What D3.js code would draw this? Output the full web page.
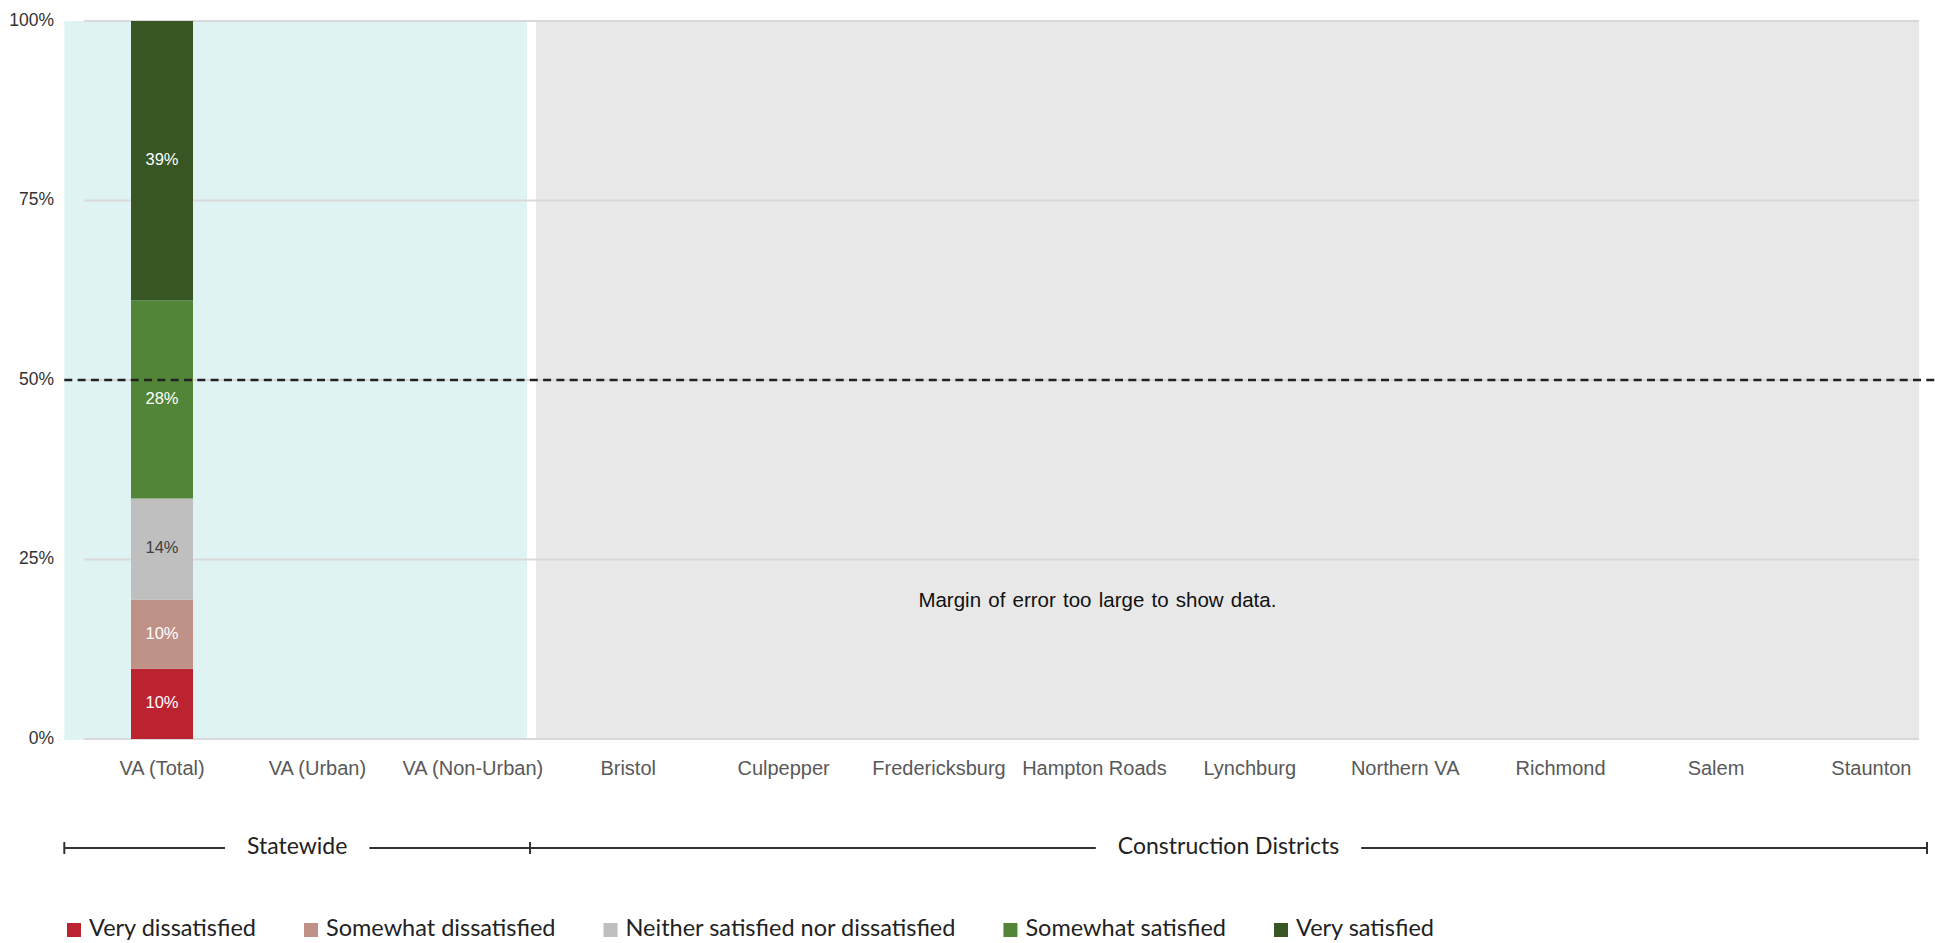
<!DOCTYPE html>
<html>
<head>
<meta charset="utf-8">
<script src="https://cdn.jsdelivr.net/npm/d3@7"></script>
<style>
  html, body { margin: 0; padding: 0; background: #ffffff; }
  svg { display: block; }
</style>
</head>
<body>
<svg id="chart" width="1939" height="943"></svg>
<script>
// ---------- DATA ----------
const categories = ["VA (Total)", "VA (Urban)", "VA (Non-Urban)", "Bristol", "Culpepper", "Fredericksburg", "Hampton Roads", "Lynchburg", "Northern VA", "Richmond", "Salem", "Staunton"];
const seriesNames = ["Very dissatisfied", "Somewhat dissatisfied", "Neither satisfied nor dissatisfied", "Somewhat satisfied", "Very satisfied"];
const seriesColors = ["#bc2331", "#c09187", "#bfbfbf", "#528537", "#375623"];
const labelColors = ["#ffffff", "#ffffff", "#404040", "#ffffff", "#ffffff"];
const veryDissatisfied     = [9.8, null, null, null, null, null, null, null, null, null, null, null];
const somewhatDissatisfied = [9.6, null, null, null, null, null, null, null, null, null, null, null];
const neither              = [14.1, null, null, null, null, null, null, null, null, null, null, null];
const somewhatSatisfied    = [27.6, null, null, null, null, null, null, null, null, null, null, null];
const verySatisfied        = [38.9, null, null, null, null, null, null, null, null, null, null, null];
const yTicks = [0, 25, 50, 75, 100];
const referenceLine = 50;
const groupNames = ["Statewide", "Construction Districts"];
const groupFirst = [0, 3];
const groupLast = [2, 11];
const noDataNote = "Margin of error too large to show data.";
const noDataCategory = "Hampton Roads";

// ---------- LAYOUT ----------
const svg = d3.select("#chart");
const W = 1939, H = 943;
const plotTop = 21, plotBottom = 739;
const slotStart = 84.3, step = 155.4;
const barWidth = 62;

const x = d3.scaleBand().domain(categories).range([slotStart, slotStart + step * categories.length]).padding(0);
const y = d3.scaleLinear().domain([0, 100]).range([plotBottom, plotTop]);
const cx = c => x(c) + x.bandwidth() / 2;

const series = [veryDissatisfied, somewhatDissatisfied, neither, somewhatSatisfied, verySatisfied];

// Background panels
const panels = [
  { x0: x(categories[groupFirst[0]]) - 20, x1: x(categories[groupLast[0]]) + step - 23.5, fill: "#dff4f2" },
  { x0: x(categories[groupFirst[1]]) - 14.5, x1: x(categories[groupLast[1]]) + step - 30, fill: "#e8e8e8" }
];
svg.append("g").selectAll("rect").data(panels).join("rect")
  .attr("x", d => d.x0).attr("width", d => d.x1 - d.x0)
  .attr("y", y(100)).attr("height", y(0) - y(100) + 1)
  .attr("fill", d => d.fill);

// Gridlines
const gridX0 = slotStart, gridX1 = panels[1].x1;
svg.append("g").selectAll("line").data(yTicks).join("line")
  .attr("x1", gridX0).attr("x2", gridX1)
  .attr("y1", d => y(d)).attr("y2", d => y(d))
  .attr("stroke", "#d9d9d9").attr("stroke-width", 2);

// Y tick labels
svg.append("g").selectAll("text").data(yTicks).join("text")
  .attr("x", 54).attr("y", d => y(d))
  .attr("text-anchor", "end").attr("dominant-baseline", "middle")
  .attr("font-family", "Liberation Sans, Arial, sans-serif")
  .attr("font-size", 17.5).attr("fill", "#333333")
  .text(d => d + "%");

// Stacked bars
const rows = categories.map((c, i) => {
  const r = { category: c };
  seriesNames.forEach((s, k) => r[s] = series[k][i] == null ? 0 : series[k][i]);
  return r;
});
const stacked = d3.stack().keys(seriesNames)(rows);
const barG = svg.append("g");
stacked.forEach((layer, k) => {
  const g = barG.append("g");
  const segs = layer.map((d, i) => ({ d, i, v: series[k][i] })).filter(o => o.v != null);
  g.selectAll("rect").data(segs).join("rect")
    .attr("x", o => cx(categories[o.i]) - barWidth / 2)
    .attr("width", barWidth)
    .attr("y", o => y(o.d[1]))
    .attr("height", o => y(o.d[0]) - y(o.d[1]))
    .attr("fill", seriesColors[k]);
  g.selectAll("text").data(segs).join("text")
    .attr("x", o => cx(categories[o.i]))
    .attr("y", o => y((o.d[0] + o.d[1]) / 2))
    .attr("text-anchor", "middle").attr("dominant-baseline", "middle")
    .attr("font-family", "Liberation Sans, Arial, sans-serif")
    .attr("font-size", 16.5).attr("fill", labelColors[k])
    .text(o => Math.round(o.v) + "%");
});

// 50% reference line
svg.append("line")
  .attr("x1", panels[0].x0).attr("x2", W)
  .attr("y1", y(referenceLine)).attr("y2", y(referenceLine))
  .attr("stroke", "#222222").attr("stroke-width", 2.6)
  .attr("stroke-dasharray", "8,5.3");

// X labels
svg.append("g").selectAll("text").data(categories).join("text")
  .attr("x", d => cx(d)).attr("y", 770)
  .attr("text-anchor", "middle").attr("dominant-baseline", "middle")
  .attr("font-family", "Liberation Sans, Arial, sans-serif")
  .attr("font-size", 20).attr("fill", "#595959")
  .text(d => d);

// No data note
svg.append("text")
  .attr("x", cx(noDataCategory) + 3).attr("y", y(19.2))
  .attr("text-anchor", "middle").attr("dominant-baseline", "middle")
  .attr("font-family", "Liberation Sans Narrow, Liberation Sans, Arial, sans-serif")
  .attr("font-size", 20.5).attr("fill", "#111111")
  .attr("word-spacing", 1.5)
  .text(noDataNote);

// Group brackets
const bracketY = 848;
const bx = [panels[0].x0, 530, 1927];
const bg = svg.append("g");
groupNames.forEach((name, gi) => {
  const a = bx[gi], b = bx[gi + 1];
  const mid = (a + b) / 2;
  const t = bg.append("text")
    .attr("x", mid).attr("y", bracketY)
    .attr("text-anchor", "middle").attr("dominant-baseline", "middle")
    .attr("font-family", "Lato, sans-serif").attr("font-size", 23)
    .attr("fill", "#222222").text(name);
  const w = t.node().getComputedTextLength();
  const gap = 22;
  bg.append("line").attr("x1", a).attr("x2", mid - w / 2 - gap)
    .attr("y1", bracketY).attr("y2", bracketY).attr("stroke", "#333333").attr("stroke-width", 2);
  bg.append("line").attr("x1", mid + w / 2 + gap).attr("x2", b)
    .attr("y1", bracketY).attr("y2", bracketY).attr("stroke", "#333333").attr("stroke-width", 2);
});
bg.selectAll("line.tick").data(bx).join("line").attr("class", "tick")
  .attr("x1", d => d).attr("x2", d => d)
  .attr("y1", bracketY - 6).attr("y2", bracketY + 6)
  .attr("stroke", "#333333").attr("stroke-width", 2);

// Legend
const legY = 930;
const lg = svg.append("g");
let lx = 67;
seriesNames.forEach((name, k) => {
  lg.append("rect").attr("x", lx).attr("y", legY - 7).attr("width", 14).attr("height", 14)
    .attr("fill", seriesColors[k]);
  const t = lg.append("text").attr("x", lx + 22).attr("y", legY)
    .attr("dominant-baseline", "middle")
    .attr("font-family", "Lato, sans-serif").attr("font-size", 23.5)
    .attr("fill", "#222222").text(name);
  lx += 22 + t.node().getComputedTextLength() + 48;
});
</script>
</body>
</html>
